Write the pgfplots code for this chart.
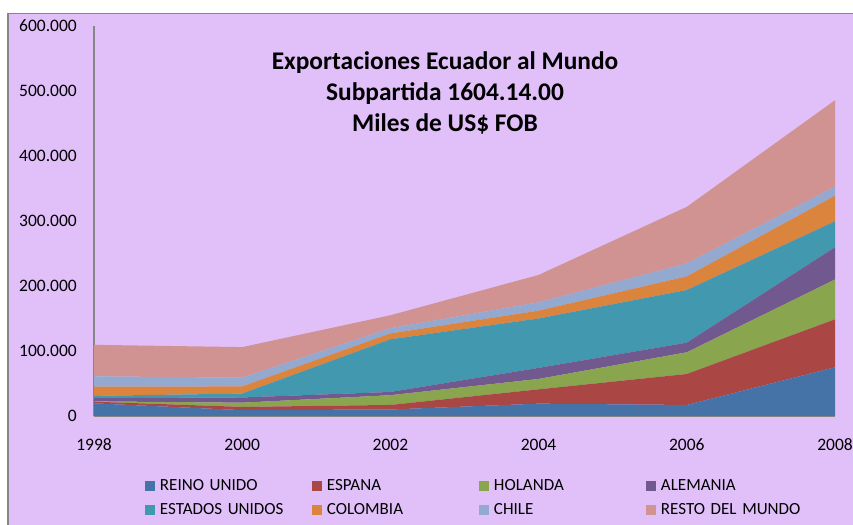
\documentclass[border=0pt]{standalone}
\usepackage{pgfplots}
\pgfplotsset{compat=1.18}
\usepackage{fontspec}
\setmainfont{Carlito}
\definecolor{bgl}{HTML}{E1BFF9}
\definecolor{cblue}{HTML}{4572A7}
\definecolor{cred}{HTML}{AA4643}
\definecolor{cgreen}{HTML}{89A54E}
\definecolor{cpurple}{HTML}{71588F}
\definecolor{cteal}{HTML}{4198AF}
\definecolor{corange}{HTML}{DB843D}
\definecolor{cchile}{HTML}{93A9CF}
\definecolor{cpink}{HTML}{D19392}
\definecolor{axgray}{HTML}{868686}
\begin{document}
\begin{tikzpicture}
\useasboundingbox (0,0) rectangle (853bp,525bp);
\fill[white] (0,0) rectangle (853bp,525bp);
\filldraw[fill=bgl, draw=axgray, line width=1.5bp] (8bp,-10bp) rectangle (870bp,511.5bp);
\begin{axis}[
  at={(94bp,109bp)}, anchor=south west,
  scale only axis, width=741bp, height=390bp,
  xmin=1998, xmax=2008, ymin=0, ymax=600000,
  scaled y ticks=false,
  stack plots=y,
  axis x line*=bottom, axis y line*=left,
  axis line style={draw=axgray, line width=1.2bp, -},
  major tick length=0pt,
  xtick={1998,2000,2002,2004,2006,2008},
  xticklabels={1998,2000,2002,2004,2006,2008},
  ytick={0,100000,200000,300000,400000,500000,600000},
  yticklabels={0,100.000,200.000,300.000,400.000,500.000,600.000},
  yticklabel style={anchor=east, inner sep=0pt, xshift=-17bp, font=\fontsize{17.5bp}{21bp}\selectfont},
  xticklabel style={anchor=base, inner sep=0pt, yshift=-35bp, font=\fontsize{17.5bp}{21bp}\selectfont},
  legend columns=4,
  legend cell align=left,
  legend image code/.code={\fill[#1] (0bp,-5bp) rectangle (10bp,5bp);},
  legend style={at={(0.0688,-0.2090)}, anchor=west, draw=none, fill=none,
    inner sep=0pt, outer sep=0pt, row sep=10bp,
    font=\fontsize{17bp}{20bp}\selectfont,
    /tikz/every odd column/.style={column sep=5bp},
    nodes={inner sep=0pt, text height=12bp, text depth=2bp, text width=152bp}},
]
\addplot[fill=cblue, draw=none] coordinates {(1998,19500)(2000,9000)(2002,10000)(2004,19000)(2006,17000)(2008,75000)} \closedcycle;
\addlegendentry{REINO UNIDO}
\addplot[fill=cred, draw=none] coordinates {(1998,2500)(2000,5000)(2002,7000)(2004,22000)(2006,47600)(2008,73700)} \closedcycle;
\addlegendentry{ESPANA}
\addplot[fill=cgreen, draw=none] coordinates {(1998,500)(2000,6500)(2002,15000)(2004,16000)(2006,33400)(2008,61300)} \closedcycle;
\addlegendentry{HOLANDA}
\addplot[fill=cpurple, draw=none] coordinates {(1998,5000)(2000,8000)(2002,5000)(2004,17000)(2006,14800)(2008,49500)} \closedcycle;
\addlegendentry{ALEMANIA}
\addplot[fill=cteal, draw=none] coordinates {(1998,3500)(2000,6000)(2002,81000)(2004,76000)(2006,81000)(2008,40000)} \closedcycle;
\addlegendentry{ESTADOS UNIDOS}
\addplot[fill=corange, draw=none] coordinates {(1998,14000)(2000,11000)(2002,9000)(2004,12000)(2006,21000)(2008,39500)} \closedcycle;
\addlegendentry{COLOMBIA}
\addplot[fill=cchile, draw=none] coordinates {(1998,16000)(2000,13500)(2002,8000)(2004,13000)(2006,20000)(2008,13800)} \closedcycle;
\addlegendentry{CHILE}
\addplot[fill=cpink, draw=none] coordinates {(1998,48500)(2000,47000)(2002,20000)(2004,42000)(2006,87000)(2008,133000)} \closedcycle;
\addlegendentry{RESTO DEL MUNDO}
\end{axis}
\node[align=center, font=\bfseries\fontsize{25.4bp}{31bp}\selectfont, inner sep=0pt] at (445bp,432bp)
  {Exportaciones Ecuador al Mundo\\Subpartida 1604.14.00\\Miles de US\$ FOB};
\end{tikzpicture}
\end{document}
